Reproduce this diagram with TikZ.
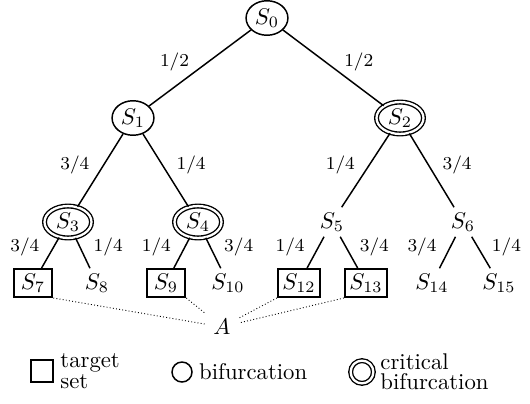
\documentclass[tikz,border=0pt]{standalone}
\usepackage{amsmath}
\usepackage{amssymb}
\usetikzlibrary{positioning,shapes.geometric}

\tikzset{
  bif/.style={draw, ellipse, inner sep=1.2pt, line width=0.65pt},
  crit/.style={draw, ellipse, inner xsep=2pt, inner ysep=0.8pt,
    double, double distance=1pt, line width=0.6pt},
  target/.style={draw, rectangle, line width=0.85pt, inner sep=2pt,
    minimum width=17pt, minimum height=12.3pt},
  plain/.style={inner sep=2pt},
  lbl/.style={font=\fontsize{8.5}{10}\selectfont, inner sep=1pt},
  pl/.style={lbl, midway, left=3.5pt, yshift=2.5pt},
  pr/.style={lbl, midway, right=3.5pt, yshift=2.5pt},
}

\begin{document}
\begin{tikzpicture}[x=0.44pt, y=-0.44pt, line width=0.65pt]
  \useasboundingbox (0,0) rectangle (530,403);
  % tree
  \node[bif] (S0) at (267,18) {$S_0$};
  \node[bif] (S1) at (133,118) {$S_1$};
  \node[crit] (S2) at (400,118) {$S_2$};
  \node[crit] (S3) at (68,222) {$S_3$};
  \node[crit] (S4) at (198,222) {$S_4$};
  \node[plain] (S5) at (332,222) {$S_5$};
  \node[plain] (S6) at (463,222) {$S_6$};
  \node[target] (S7) at (33,283) {$S_7$};
  \node[plain] (S8) at (97,283) {$S_8$};
  \node[target] (S9) at (166,283) {$S_9$};
  \node[plain] (S10) at (228,283) {$S_{10}$};
  \node[target] (S12) at (299,283) {$S_{12}$};
  \node[target] (S13) at (366,283) {$S_{13}$};
  \node[plain] (S14) at (432,283) {$S_{14}$};
  \node[plain] (S15) at (499,283) {$S_{15}$};
  \node (A) at (222,327) {$A$};

  \draw (S0) -- (S1) node[pl] (p01) {$1/2$};
  \draw (S0) -- (S2) node[pr] (p02) {$1/2$};
  \draw (S1) -- (S3) node[pl] (p13) {$3/4$};
  \draw (S1) -- (S4) node[pr] (p14) {$1/4$};
  \draw (S2) -- (S5) node[pl] (p25) {$1/4$};
  \draw (S2) -- (S6) node[pr] (p26) {$3/4$};
  \draw (S3) -- (S7) node[pl] (p37) {$3/4$};
  \draw (S3) -- (S8) node[pr] (p38) {$1/4$};
  \draw (S4) -- (S9) node[pl] (p49) {$1/4$};
  \draw (S4) -- (S10) node[pr] (p410) {$3/4$};
  \draw (S5) -- (S12) node[pl] (p512) {$1/4$};
  \draw (S5) -- (S13) node[pr] (p513) {$3/4$};
  \draw (S6) -- (S14) node[pl] (p614) {$3/4$};
  \draw (S6) -- (S15) node[pr] (p615) {$1/4$};

  % target set
  \draw[densely dotted, line width=0.4pt] (S7.south east) -- (A);
  \draw[densely dotted, line width=0.4pt] (S9.south east) -- (A);
  \draw[densely dotted, line width=0.4pt] (S12.south west) -- (A);
  \draw[densely dotted, line width=0.4pt] (S13.south west) -- (A);

  % legend
  \node[draw, rectangle, line width=0.85pt, minimum size=9.7pt, inner sep=0pt]
    (keyTarget) at (42,371) {};
  \node[right=1.5pt of keyTarget, align=left, inner sep=1pt] (keyTargetText)
    {target\\[-3pt]set};
  \node[draw, circle, line width=0.65pt, minimum size=8.8pt, inner sep=0pt]
    (keyBif) at (182,372) {};
  \node[right=1.5pt of keyBif, inner sep=1pt] (keyBifText) {bifurcation};
  \node[draw, circle, double, double distance=1pt, line width=0.6pt,
    minimum size=10pt, inner sep=0pt] (keyCrit) at (362,372) {};
  \node[right=1.5pt of keyCrit, align=left, inner sep=1pt] (keyCritText)
    {critical\\[-3pt]bifurcation};
\end{tikzpicture}
\end{document}
